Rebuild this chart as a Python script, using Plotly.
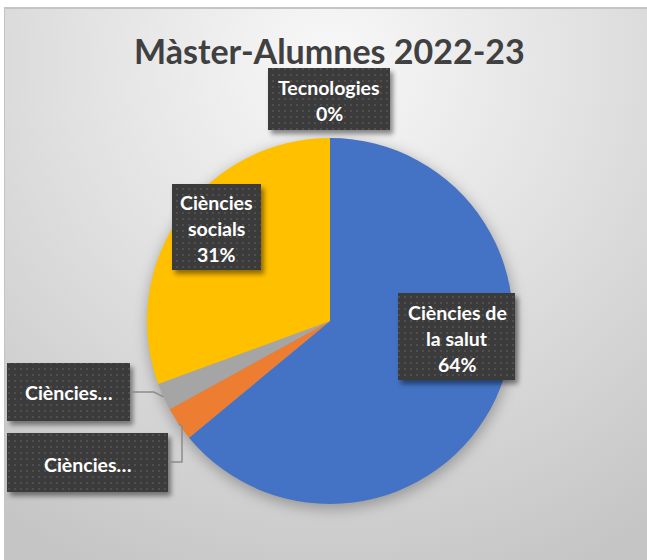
import base64
import math
import plotly.graph_objects as go

# ---------------- data ----------------
categories = ["Ciències de la salut", "Ciències humanes", "Ciències experimentals",
              "Ciències socials", "Tecnologies"]
display_labels = ["Ciències de<br>la salut", "Ciències…", "Ciències…",
                  "Ciències<br>socials", "Tecnologies"]
values = [64.0, 3.0, 2.4, 30.6, 0.0]
colors = ["#4472C4", "#ED7D31", "#A5A5A5", "#FFC000", "#5B9BD5"]
title_text = "Màster-Alumnes 2022-23"

# ---------------- layout constants ----------------
W, H = 647, 560
CX, CY, R = 330, 321, 183          # pie centre / radius in px
FONT = "Lato"

def px(x):
    return x / W

def py(y):
    return 1 - y / H

total = sum(values)
pcts = [round(v / total * 100) for v in values]

# label boxes (x0, y0, x1, y1) in px, and line centres
boxes = {
    0: (398, 293, 515, 380, 457, [312, 338, 364], True),
    1: (7, 363, 130, 421, 69, [392], False),
    2: (7, 433, 168, 492, 88, [464], False),
    3: (172, 184, 261, 270, 216, [202, 228, 255], True),
    4: (268, 68, 390, 130, 329, [87, 114], True),
}

# ---------------- background svg (gradient, border, pie shadow) ----------------
bg_svg = f'''<svg xmlns="http://www.w3.org/2000/svg" width="{W}" height="{H}" viewBox="0 0 {W} {H}">
<defs>
<radialGradient id="g" gradientUnits="userSpaceOnUse" cx="330" cy="60" r="560">
<stop offset="0" stop-color="#f8f8f8"/>
<stop offset="0.45" stop-color="#e2e2e2"/>
<stop offset="1" stop-color="#c5c5c5"/>
</radialGradient>
<filter id="b" x="-20%" y="-20%" width="140%" height="140%"><feGaussianBlur stdDeviation="7"/></filter>
</defs>
<rect width="{W}" height="{H}" fill="#ffffff"/>
<rect x="4" y="7" width="{W-4}" height="{H-7}" fill="#c4c4c4"/>
<rect x="5" y="9" width="{W-5}" height="{H-9}" fill="url(#g)"/>
<circle cx="{CX+1}" cy="{CY+4}" r="{R+1}" fill="#000" fill-opacity="0.28" filter="url(#b)"/>
</svg>'''

# ---------------- overlay svg (label boxes with dotted texture & shadow) ----------------
rects = ""
for i, (x0, y0, x1, y1, *_rest) in boxes.items():
    rects += f'<rect x="{x0}" y="{y0}" width="{x1-x0}" height="{y1-y0}" fill="url(#p)" filter="url(#s)"/>'
ov_svg = f'''<svg xmlns="http://www.w3.org/2000/svg" width="{W}" height="{H}" viewBox="0 0 {W} {H}">
<defs>
<pattern id="p" width="6" height="6" patternUnits="userSpaceOnUse">
<rect width="6" height="6" fill="#3a3a3a"/>
<rect x="2" y="2" width="2" height="2" fill="#4f4f4f"/>
</pattern>
<filter id="s" x="-10%" y="-10%" width="130%" height="140%">
<feDropShadow dx="3" dy="4" stdDeviation="2.5" flood-color="#000" flood-opacity="0.45"/>
</filter>
</defs>
{rects}
</svg>'''

def uri(s):
    return "data:image/svg+xml;base64," + base64.b64encode(s.encode("utf-8")).decode()

fig = go.Figure(go.Pie(
    labels=categories,
    values=values,
    marker=dict(colors=colors, line=dict(width=0)),
    direction="clockwise",
    sort=False,
    rotation=0,
    textinfo="none",
    hoverinfo="label+percent",
    showlegend=False,
    domain=dict(x=[px(CX - R), px(CX + R)], y=[py(CY + R), py(CY - R)]),
))

annotations = [dict(
    text=f"<b>{title_text}</b>", x=px(CX - 1), y=py(50), xref="paper", yref="paper",
    showarrow=False, xanchor="center", yanchor="middle",
    font=dict(family=FONT, size=34, color="#404040"))]

for i, (x0, y0, x1, y1, tx, ys, with_pct) in boxes.items():
    lines = display_labels[i].split("<br>")
    if with_pct:
        lines = lines + [f"{pcts[i]}%"]
    for line, yy in zip(lines, ys):
        annotations.append(dict(
            text=f"<b>{line}</b>", x=px(tx), y=py(yy), xref="paper", yref="paper",
            showarrow=False, xanchor="center", yanchor="middle",
            font=dict(family=FONT, size=19.5, color="#ffffff")))

# leader lines from the small-slice boxes to the mid-angle of their slices
cum = 0.0
mids = []
for v in values:
    mids.append((cum + v / 2) / total * 2 * math.pi)
    cum += v

def edge(i):
    a = mids[i]
    return CX + R * math.sin(a), CY - R * math.cos(a)

shapes = []
ex, ey = edge(2)
p1 = f"M {px(130)},{py(392)} L {px(154)},{py(392)} L {px(ex)},{py(ey)}"
ex2, ey2 = edge(1)
p2 = f"M {px(168)},{py(462)} L {px(182)},{py(462)} L {px(182)},{py(ey2 + 2)} L {px(ex2)},{py(ey2)}"
for p in (p1, p2):
    shapes.append(dict(type="path", path=p, xref="paper", yref="paper",
                       line=dict(color="#8c8c8c", width=1.5), layer="above"))

fig.update_layout(
    width=W, height=H, autosize=False,
    margin=dict(l=0, r=0, t=0, b=0),
    paper_bgcolor="rgba(0,0,0,0)", plot_bgcolor="rgba(0,0,0,0)",
    images=[
        dict(source=uri(bg_svg), xref="paper", yref="paper", x=0, y=1, sizex=1, sizey=1,
             xanchor="left", yanchor="top", sizing="stretch", layer="below"),
        dict(source=uri(ov_svg), xref="paper", yref="paper", x=0, y=1, sizex=1, sizey=1,
             xanchor="left", yanchor="top", sizing="stretch", layer="above"),
    ],
    annotations=annotations,
    shapes=shapes,
)

fig.write_html("out.html", config={"displayModeBar": False},
               post_script="document.body.style.margin='0';document.body.style.overflow='hidden';")
